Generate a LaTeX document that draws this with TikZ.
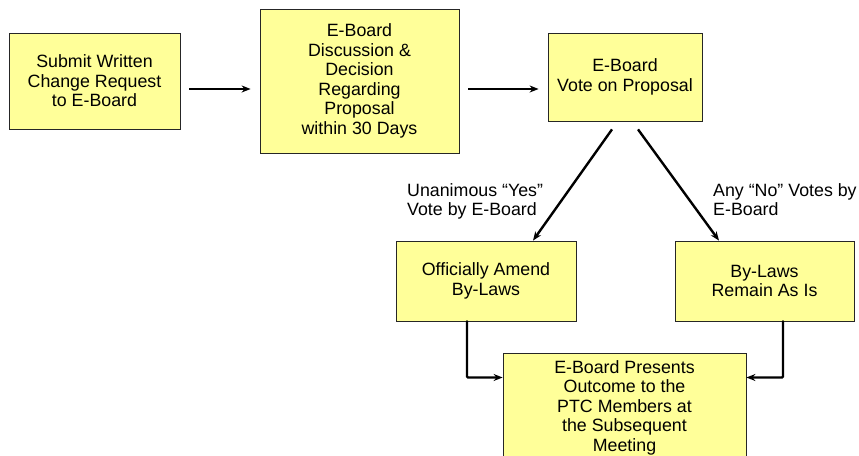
\documentclass[tikz,border=0pt]{standalone}
\usepackage{fontspec}
\setmainfont{Liberation Sans}
\usepackage{xcolor}
\usetikzlibrary{arrows.meta}
\definecolor{boxfill}{HTML}{FFFF99}

\begin{document}
\begin{tikzpicture}[x=1pt, y=1pt,
        box/.style={draw=black!85, line width=0.8pt, fill=boxfill, inner sep=0pt,
            align=center, font=\fontsize{17.8}{19.5}\selectfont},
        flow/.style={line width=2.4pt, -{Stealth[length=9pt, width=7pt]}},
        elbow/.style={flow, line cap=round, rounded corners=1pt},
        vlabel/.style={anchor=north west, align=left, inner sep=0pt,
            font=\fontsize{17.8}{19.5}\selectfont}]
        \useasboundingbox (0, 0) rectangle (859, 455);

        \node[box, minimum width=171, minimum height=96] (submit) at (94.5, 374)
            {Submit Written\\Change Request\\to E-Board};
        \node[box, minimum width=199, minimum height=144] (discuss) at (359.5, 374)
            {E-Board\\Discussion \&\\Decision\\Regarding\\Proposal\\within 30 Days};
        \node[box, minimum width=154, minimum height=88] (vote) at (625, 378)
            {E-Board\\Vote on Proposal};

        \node[box, minimum width=180, minimum height=80] (amend) at (486, 174)
            {Officially Amend\\By-Laws};
        \node[box, minimum width=179, minimum height=80] (remain) at (764.5, 174)
            {By-Laws\\Remain As Is};
        \node[box, minimum width=243, minimum height=109] (present) at (624.5, 47.5)
            {E-Board Presents\\Outcome to the\\PTC Members at\\the Subsequent\\Meeting};

        \draw[flow] ([xshift=9pt, yshift=-8pt]submit.east) -- ([xshift=-9pt, yshift=-8pt]discuss.west);
        \draw[flow] ([xshift=9pt, yshift=-8pt]discuss.east) -- ([xshift=-9pt, yshift=-12pt]vote.west);

        \draw[flow] ([xshift=-13pt, yshift=-8pt]vote.south) -- ([xshift=47pt]amend.north);
        \draw[flow] ([xshift=13pt, yshift=-8pt]vote.south) -- ([xshift=-45.5pt]remain.north);
        \node[vlabel] (yes) at (407, 272) {Unanimous “Yes”\\Vote by E-Board};
        \node[vlabel] (no) at (713, 272) {Any “No” Votes by\\E-Board};

        \draw[elbow] ([xshift=-19pt]amend.south) |- ([yshift=30pt]present.west);
        \draw[elbow] ([xshift=18.5pt]remain.south) |- ([yshift=30pt]present.east);

    \end{tikzpicture}
\end{document}
